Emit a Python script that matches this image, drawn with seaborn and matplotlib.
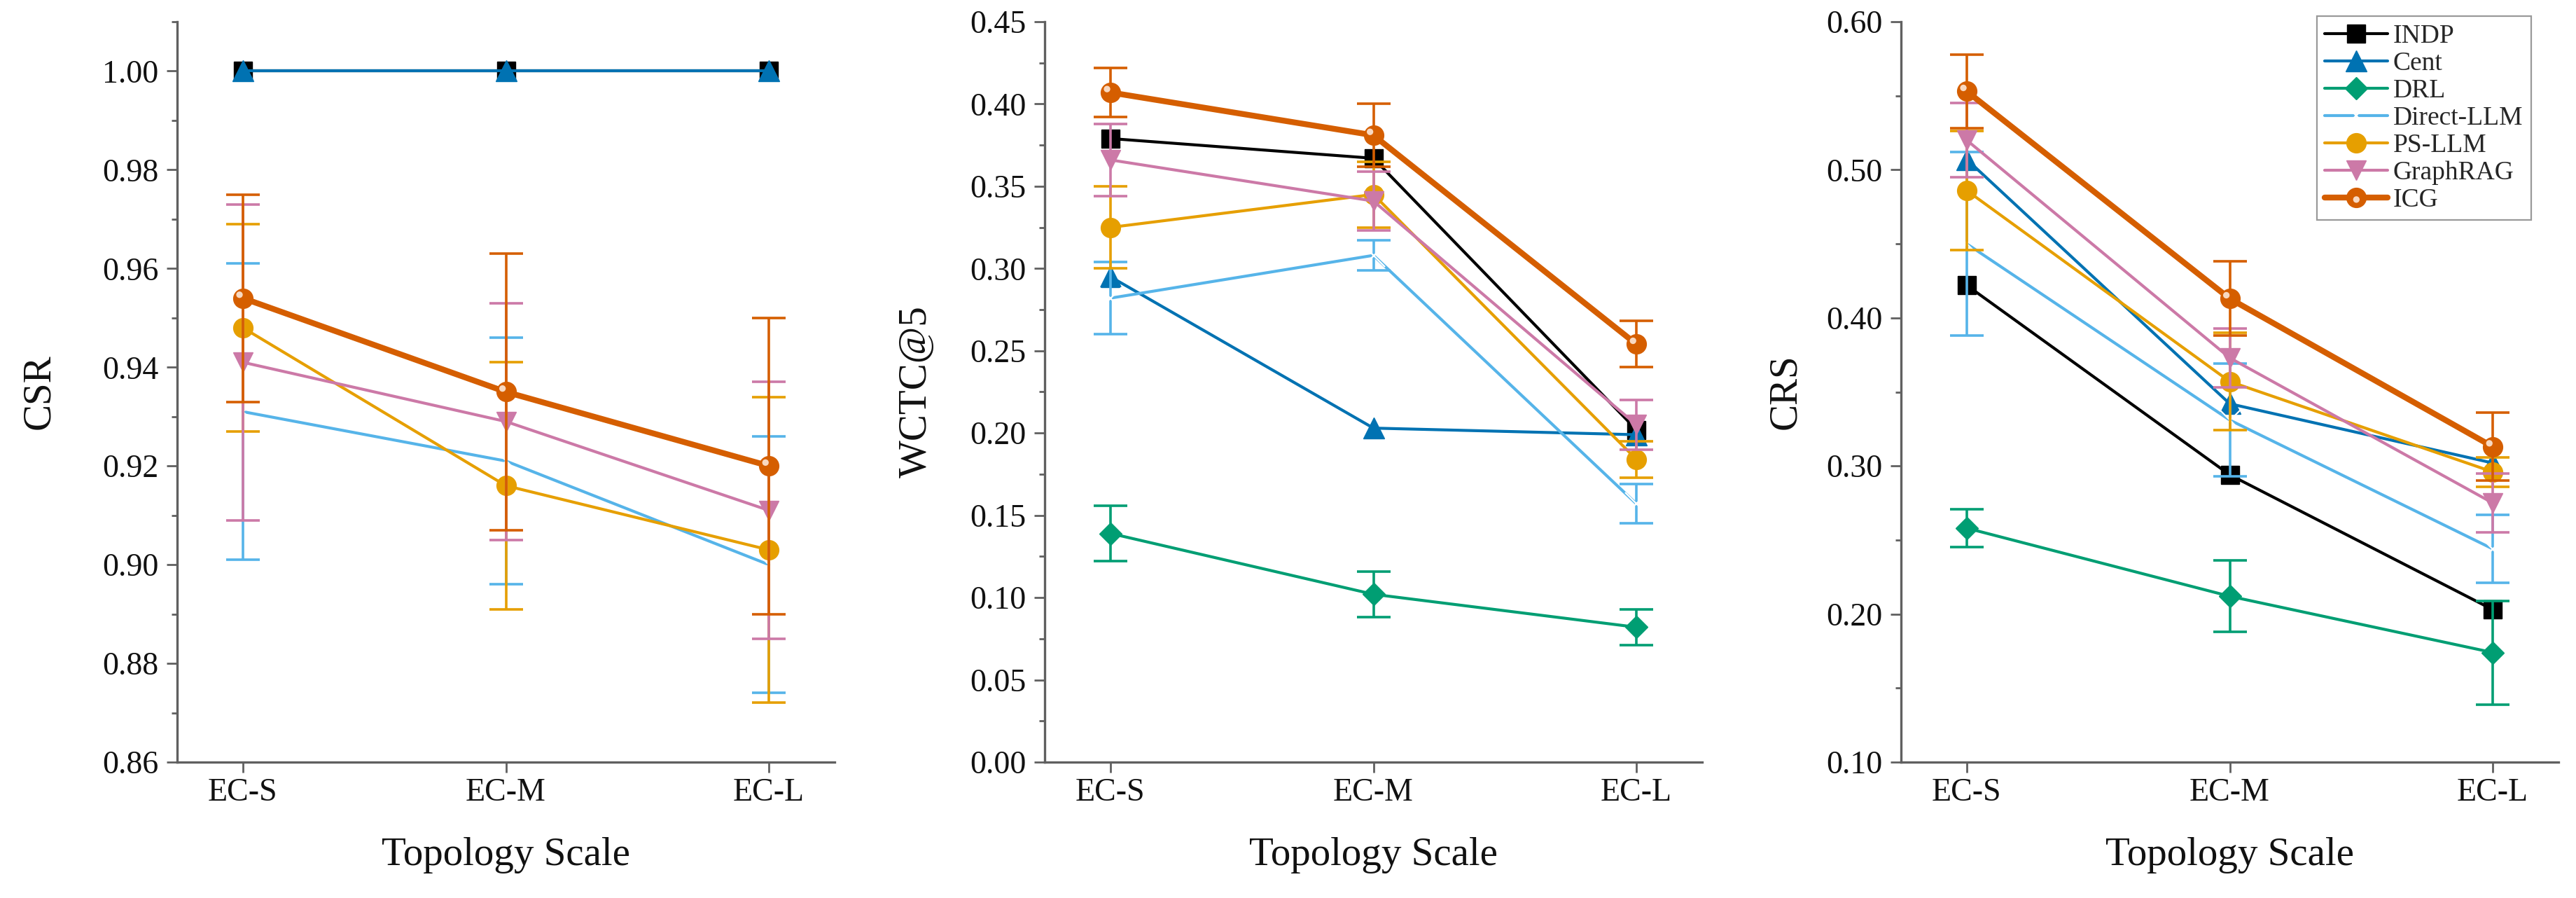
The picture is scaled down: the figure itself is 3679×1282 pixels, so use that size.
import numpy as np
import pandas as pd
import matplotlib
matplotlib.use("Agg")
import matplotlib.pyplot as plt
import matplotlib.transforms as mtransforms
import seaborn as sns
from matplotlib.ticker import MultipleLocator, AutoMinorLocator, FormatStrFormatter

# ---------------- data ----------------
scales = ["EC-S", "EC-M", "EC-L"]
methods = ["INDP", "Cent", "DRL", "Direct-LLM", "PS-LLM", "GraphRAG", "ICG"]
colors = ["#000000", "#0072B2", "#009E73", "#56B4E9", "#E69F00", "#CC79A7", "#D55E00"]

nan = np.nan
# CSR (rows follow `methods`)
csr_mean = [[1.000, 1.000, 1.000],
            [1.000, 1.000, 1.000],
            [nan, nan, nan],
            [0.931, 0.921, 0.900],
            [0.948, 0.916, 0.903],
            [0.941, 0.929, 0.911],
            [0.954, 0.935, 0.920]]
csr_err = [[0, 0, 0],
           [0, 0, 0],
           [nan, nan, nan],
           [0.030, 0.025, 0.026],
           [0.021, 0.025, 0.031],
           [0.032, 0.024, 0.026],
           [0.021, 0.028, 0.030]]

# WCTC@5
wctc_mean = [[0.379, 0.367, 0.202],
             [0.295, 0.203, 0.199],
             [0.139, 0.102, 0.082],
             [0.282, 0.308, 0.157],
             [0.325, 0.345, 0.184],
             [0.366, 0.341, 0.205],
             [0.407, 0.381, 0.254]]
wctc_err = [[0, 0, 0],
            [0, 0, 0],
            [0.017, 0.014, 0.011],
            [0.022, 0.009, 0.012],
            [0.025, 0.020, 0.011],
            [0.022, 0.018, 0.015],
            [0.015, 0.019, 0.014]]

# CRS
crs_mean = [[0.422, 0.294, 0.203],
            [0.507, 0.342, 0.302],
            [0.258, 0.212, 0.174],
            [0.450, 0.331, 0.244],
            [0.486, 0.357, 0.296],
            [0.520, 0.373, 0.275],
            [0.553, 0.413, 0.313]]
crs_err = [[0, 0, 0],
           [0, 0, 0],
           [0.013, 0.024, 0.035],
           [0.062, 0.038, 0.023],
           [0.040, 0.033, 0.010],
           [0.025, 0.020, 0.020],
           [0.025, 0.025, 0.023]]

metric_names = ["CSR", "WCTC@5", "CRS"]
ylims = [(0.86, 1.01), (0.0, 0.45), (0.10, 0.60)]
ysteps = [0.02, 0.05, 0.10]

# ---------------- style ----------------
sns.set_style("ticks")
plt.rcParams["font.family"] = "serif"
plt.rcParams["font.serif"] = ["Liberation Serif", "DejaVu Serif"]
plt.rcParams["mathtext.fontset"] = "stix"

markers = ["s", "^", "D", "x", "o", "v", "o"]
msizes = [19, 21, 16, 23, 20, 20, 20]
lwidths = [3, 3, 3, 3, 3, 3, 6]
spine_col = "#606060"
text_col = "#111111"

W, H = 3679, 1282
fig = plt.figure(figsize=(W / 100, H / 100), dpi=100)
lefts = [253, 1492, 2715]
ax_w = 939
ax_bottom_px, ax_top_px = 1088, 31

tables = []
for mname, means, errs in [("CSR", csr_mean, csr_err), ("WCTC@5", wctc_mean, wctc_err), ("CRS", crs_mean, crs_err)]:
    rows = []
    for mi, meth in enumerate(methods):
        for si, sc in enumerate(scales):
            rows.append(dict(method=meth, scale=sc, pos=si, value=means[mi][si], err=errs[mi][si]))
    tables.append(pd.DataFrame(rows))

ylabel_x = [-0.182, -0.167, -0.148]
legend_handles = []
for pi, df in enumerate(tables):
    ax = fig.add_axes([lefts[pi] / W, (H - ax_bottom_px) / H, ax_w / W, (ax_bottom_px - ax_top_px) / H])
    hl_offset = ax.transData + mtransforms.ScaledTranslation(-3.5 / 72, 3.5 / 72, fig.dpi_scale_trans)
    for mi, meth in enumerate(methods):
        sub = df[df.method == meth].dropna(subset=["value"])
        if sub.empty:
            continue
        c = colors[mi]
        if markers[mi] == "x":
            extra = dict(markeredgewidth=1.6)
        else:
            extra = dict(markeredgewidth=1.0, markeredgecolor=c, markerfacecolor=c)
        sns.lineplot(data=sub, x="pos", y="value", color=c, marker=markers[mi],
                     markersize=msizes[mi], linewidth=lwidths[mi], errorbar=None,
                     label=meth, legend=False, ax=ax, zorder=3 + 2 * mi, **extra)
        line = ax.lines[-1]
        handle = line
        if meth == "ICG":
            # glossy highlight of the sphere-like marker
            sns.scatterplot(data=sub, x="pos", y="value", s=45, color="#F8D9C2",
                            edgecolor="none", ax=ax, legend=False, zorder=3 + 2 * mi + 0.5,
                            transform=hl_offset)
            handle = (line, ax.collections[-1])
        if pi == 2:
            legend_handles.append(handle)
        if (sub.err > 0).any():
            ax.errorbar(sub.pos, sub.value, yerr=sub.err, fmt="none", ecolor=c,
                        elinewidth=2.6, capsize=17, capthick=2.6, zorder=2 + 2 * mi)

    ax.set_xlim(-0.25, 2.25)
    ax.set_ylim(*ylims[pi])
    ax.set_xticks([0, 1, 2])
    ax.set_xticklabels(scales)
    ax.yaxis.set_major_locator(MultipleLocator(ysteps[pi]))
    ax.yaxis.set_minor_locator(AutoMinorLocator(2))
    ax.yaxis.set_major_formatter(FormatStrFormatter("%.2f"))
    sns.despine(ax=ax)
    for s in ["left", "bottom"]:
        ax.spines[s].set_linewidth(2.4)
        ax.spines[s].set_color(spine_col)
    ax.tick_params(axis="both", which="major", direction="out", length=11, width=2,
                   color=spine_col, labelsize=33, labelcolor=text_col)
    ax.tick_params(axis="x", which="major", pad=5)
    ax.tick_params(axis="y", which="major", pad=8)
    ax.tick_params(axis="y", which="minor", direction="out", length=6, width=2, color=spine_col)
    ax.set_xlabel("Topology Scale", fontsize=41, color=text_col)
    ax.set_ylabel(metric_names[pi], fontsize=41, color=text_col)
    ax.xaxis.set_label_coords(0.5, -0.101)
    ax.yaxis.set_label_coords(ylabel_x[pi], 0.5)

    if pi == 2:
        leg = ax.legend(handles=legend_handles, labels=methods, loc="upper right",
                        bbox_to_anchor=(0.958, 1.0076), borderaxespad=0, fontsize=27,
                        frameon=True, fancybox=False, edgecolor="#999999", framealpha=1,
                        handlelength=2.4, handletextpad=0.2, labelspacing=0.12, borderpad=0.3)
        leg.get_frame().set_linewidth(1.6)

fig.savefig("out.png", dpi=100, facecolor="white")
